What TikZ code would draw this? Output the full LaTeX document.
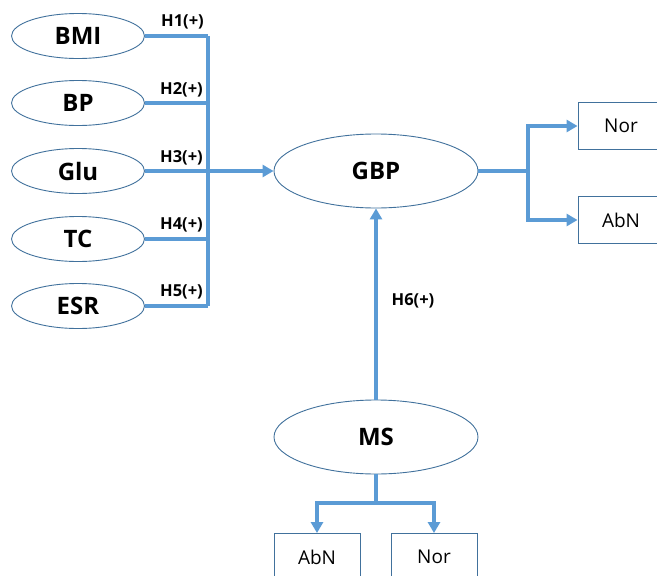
\documentclass[tikz,border=0pt]{standalone}
\usepackage{fontspec}
\setmainfont{Open Sans}
\usepackage{tikz}
\usetikzlibrary{shapes.geometric,arrows.meta,calc}

\definecolor{linkblue}{RGB}{91,155,213}
\definecolor{edgeblue}{RGB}{65,113,156}

\tikzset{
    factor/.style={ellipse, draw=edgeblue, line width=0.9pt, inner sep=0pt,
        minimum width=133pt, minimum height=45pt,
        font=\fontsize{24}{26}\selectfont\bfseries},
    bigfactor/.style={factor, minimum width=204pt, minimum height=74pt},
    outbox/.style={rectangle, draw=edgeblue, line width=0.9pt, inner sep=0pt,
        minimum width=86pt, minimum height=47pt,
        font=\fontsize{19}{21}\selectfont},
    hlab/.style={inner sep=1pt, font=\fontsize{16.5}{18}\selectfont\bfseries},
    link/.style={draw=linkblue, line width=3.3pt},
    arr/.style={link, -{Triangle[length=11pt,width=12pt]}}
}

\begin{document}
\begin{tikzpicture}[x=1pt, y=-1pt]
    \useasboundingbox (0,0) rectangle (657,576);
    \clip (0,0) rectangle (657,576);

    % left factors
    \node [factor] (bmi) at (78,36) {BMI};
    \node [factor] (bp) at (78,103) {BP};
    \node [factor] (glu) at (78,171) {Glu};
    \node [factor] (tc) at (78,239) {TC};
    \node [factor] (esr) at (78,306) {ESR};

    % middle
    \node [bigfactor] (gbp) at (376,171) {GBP};
    \node [bigfactor] (ms) at (376,437) {MS};

    % outcome boxes
    \node [outbox] (nor1) at (621,126) {Nor};
    \node [outbox] (abn1) at (621,220) {AbN};
    \node [outbox] (abn2) at (317,557) {AbN};
    \node [outbox] (nor2) at (434,557) {Nor};

    \coordinate (bus) at (208,171);
    \coordinate (rsplit) at (528,171);
    \coordinate (bsplit) at (376,503);

    % inputs into the bus
    \foreach \f in {bmi,bp,glu,tc,esr}
        \draw [link] (\f.east) -- (\f.east -| bus);
    \draw [link] (bmi.east -| bus) -- (esr.east -| bus);
    \draw [arr] (bus) -- (gbp.west);

    \node [hlab, anchor=south east] (h1) at (205,30) {H1(+)};
    \node [hlab, anchor=south east] (h2) at (204,98) {H2(+)};
    \node [hlab, anchor=south east] (h3) at (204,166) {H3(+)};
    \node [hlab, anchor=south east] (h4) at (204,233) {H4(+)};
    \node [hlab, anchor=south east] (h5) at (204,300) {H5(+)};

    % GBP outputs
    \draw [link] (gbp.east) -- (rsplit);
    \draw [arr] (rsplit) |- (nor1.west);
    \draw [arr] (rsplit) |- (abn1.west);

    % MS into GBP
    \draw [arr] (ms.north) -- (gbp.south);
    \node [hlab] (h6) at (413,301) {H6(+)};

    % MS outputs
    \draw [link] (ms.south) -- (bsplit);
    \draw [arr] (bsplit) -| (abn2.north);
    \draw [arr] (bsplit) -| (nor2.north);
\end{tikzpicture}
\end{document}
